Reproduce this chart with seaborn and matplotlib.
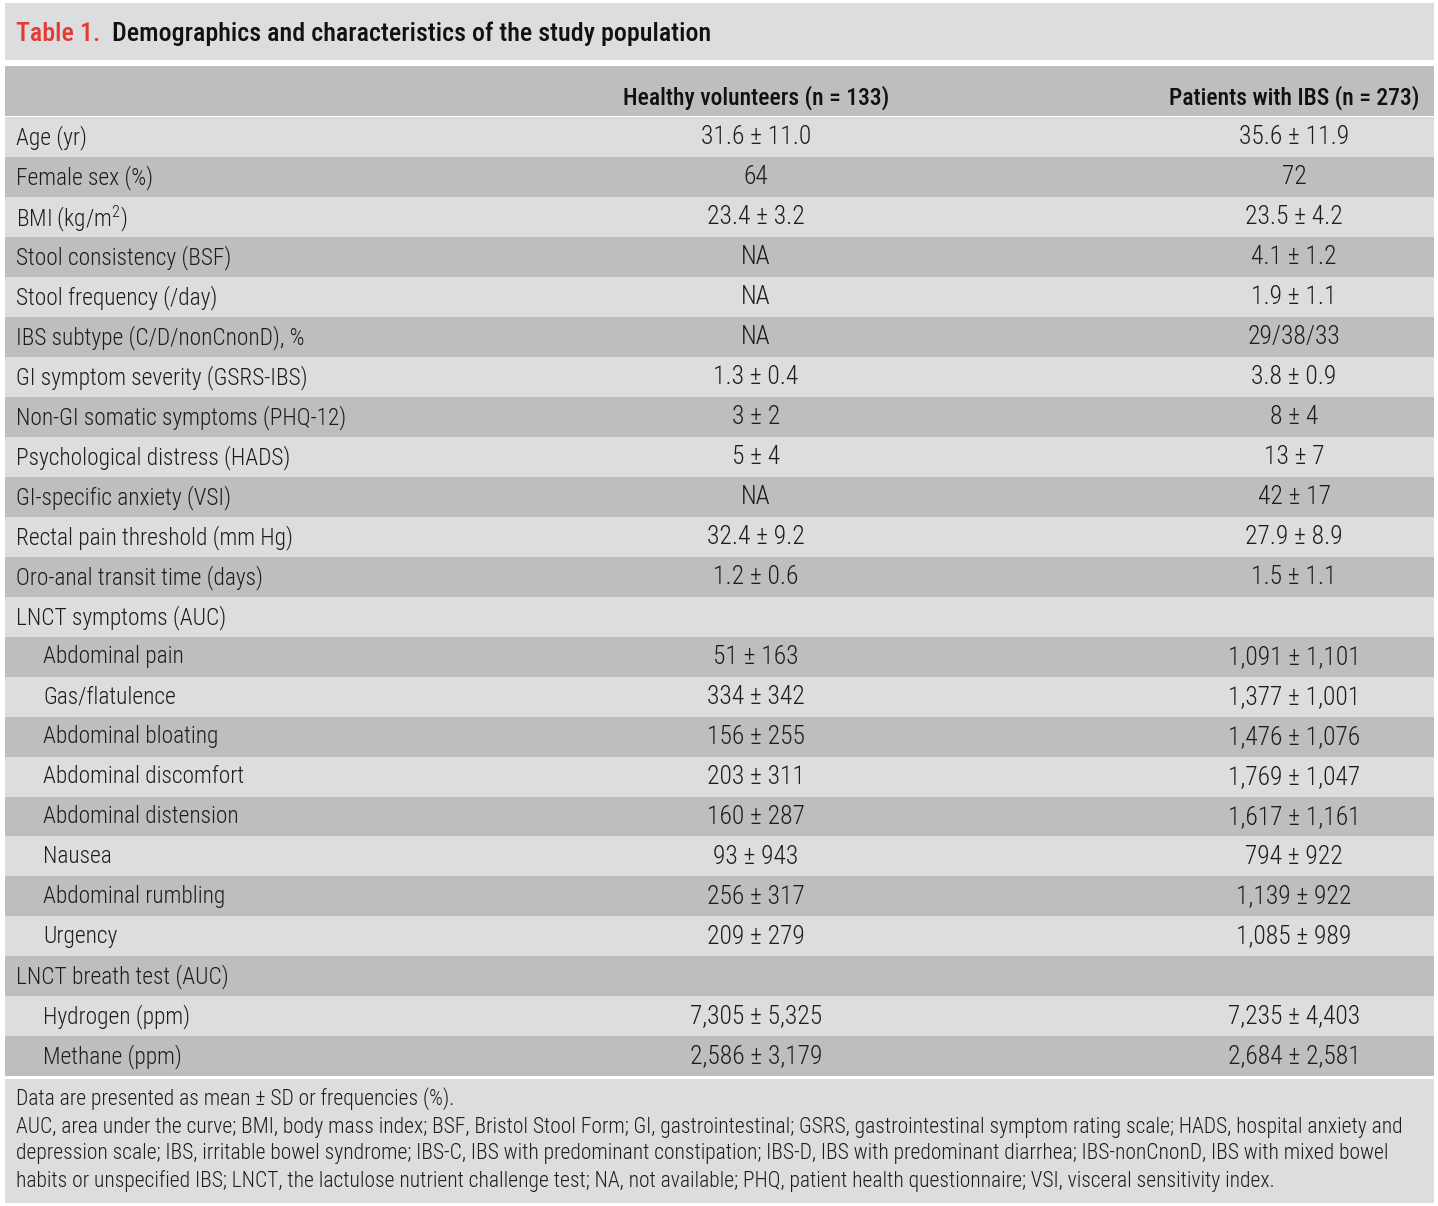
import matplotlib
matplotlib.use("Agg")
import matplotlib.pyplot as plt
import seaborn as sns

# table content
labels = ["Age (yr)", "Female sex (%)", "BMI (kg/m$^{2}$)", "Stool consistency (BSF)",
          "Stool frequency (/day)", "IBS subtype (C/D/nonCnonD), %",
          "GI symptom severity (GSRS-IBS)", "Non-GI somatic symptoms (PHQ-12)",
          "Psychological distress (HADS)", "GI-specific anxiety (VSI)",
          "Rectal pain threshold (mm Hg)", "Oro-anal transit time (days)",
          "LNCT symptoms (AUC)", "Abdominal pain", "Gas/flatulence",
          "Abdominal bloating", "Abdominal discomfort", "Abdominal distension",
          "Nausea", "Abdominal rumbling", "Urgency", "LNCT breath test (AUC)",
          "Hydrogen (ppm)", "Methane (ppm)"]
indented = [False] * 13 + [True] * 8 + [False] + [True] * 2
healthy = ["31.6 ± 11.0", "64", "23.4 ± 3.2", "NA", "NA", "NA", "1.3 ± 0.4",
           "3 ± 2", "5 ± 4", "NA", "32.4 ± 9.2", "1.2 ± 0.6", "",
           "51 ± 163", "334 ± 342", "156 ± 255", "203 ± 311", "160 ± 287",
           "93 ± 943", "256 ± 317", "209 ± 279", "",
           "7,305 ± 5,325", "2,586 ± 3,179"]
ibs = ["35.6 ± 11.9", "72", "23.5 ± 4.2", "4.1 ± 1.2", "1.9 ± 1.1", "29/38/33",
       "3.8 ± 0.9", "8 ± 4", "13 ± 7", "42 ± 17", "27.9 ± 8.9", "1.5 ± 1.1", "",
       "1,091 ± 1,101", "1,377 ± 1,001", "1,476 ± 1,076", "1,769 ± 1,047",
       "1,617 ± 1,161", "794 ± 922", "1,139 ± 922", "1,085 ± 989", "",
       "7,235 ± 4,403", "2,684 ± 2,581"]
col_headers = ["Healthy volunteers (n = 133)", "Patients with IBS (n = 273)"]
title_num = "Table 1."
title_text = "Demographics and characteristics of the study population"
footnotes = [
    "Data are presented as mean ± SD or frequencies (%).",
    "AUC, area under the curve; BMI, body mass index; BSF, Bristol Stool Form; GI, gastrointestinal; GSRS, gastrointestinal symptom rating scale; HADS, hospital anxiety and",
    "depression scale; IBS, irritable bowel syndrome; IBS-C, IBS with predominant constipation; IBS-D, IBS with predominant diarrhea; IBS-nonCnonD, IBS with mixed bowel",
    "habits or unspecified IBS; LNCT, the lactulose nutrient challenge test; NA, not available; PHQ, patient health questionnaire; VSI, visceral sensitivity index.",
]

sns.set_theme(style="white")
plt.rcParams['font.family'] = ['Roboto Condensed', 'DejaVu Sans']
plt.rcParams['mathtext.fontset'] = 'custom'
plt.rcParams['mathtext.rm'] = 'Roboto Condensed:light'
plt.rcParams['mathtext.default'] = 'rm'

light = "#dcdddf"
dark = "#bdbec0"
ink = "#1f1c1d"

fig = plt.figure(figsize=(14.38, 12.06), dpi=100)
ax = fig.add_axes([0, 0, 1, 1])
ax.set_xlim(0, 1438)
ax.set_ylim(1206, 0)
ax.axis("off")
renderer = fig.canvas.get_renderer()


def text_width(s, size, weight="normal"):
    t = ax.text(0, 0, s, fontsize=size, fontweight=weight)
    w = t.get_window_extent(renderer).width
    t.remove()
    return w


def fit_size(s, target, weight="normal"):
    return 20 * target / text_width(s, 20, weight)


body_fs = fit_size("Rectal pain threshold (mm Hg)", 277, "light")
val_fs = fit_size("7,305 ± 5,325", 132, "light")
head_fs = fit_size(col_headers[0], 266, "medium")
foot_fs = fit_size(footnotes[1], 1384, "light")
title_fs = fit_size(title_num + "  " + title_text, 694, "medium")

left, width = 5, 1429
row_h = 39.95
first_y = 137.5
row_y = [first_y + i * row_h for i in range(len(labels))]
row_cols = [light if i % 2 == 0 else dark for i in range(len(labels))]

# title band, header band, body stripes, footer band
ax.barh([31.5], [width], height=57, left=left, color=light, linewidth=0)
ax.barh([91], [width], height=50, left=left, color=dark, linewidth=0)
ax.barh(row_y, [width] * len(labels), height=row_h + 0.3, left=left,
        color=row_cols, linewidth=0)
ax.barh([1141], [width], height=124, left=left, color=light, linewidth=0)

ax.text(16, 34, title_num, color="#e53a33", fontsize=title_fs, fontweight="medium", va="center")
gap = text_width(title_num + "  ", title_fs, "medium")
ax.text(16 + gap, 34, title_text, color="#111111", fontsize=title_fs, fontweight="medium", va="center")

col_x = [756, 1294]
for x, h in zip(col_x, col_headers):
    ax.text(x, 98, h, ha="center", va="center", fontsize=head_fs, fontweight="medium", color="#111111")

for y, lab, ind, a, b in zip(row_y, labels, indented, healthy, ibs):
    ty = y - 2.5
    ax.text(43 if ind else 16, ty, lab, ha="left", va="center_baseline", fontsize=body_fs,
            fontweight="light", color=ink)
    ax.text(col_x[0], ty, a, ha="center", va="center_baseline", fontsize=val_fs,
            fontweight="light", color=ink)
    ax.text(col_x[1], ty, b, ha="center", va="center_baseline", fontsize=val_fs,
            fontweight="light", color=ink)

foot_y = [1099, 1127, 1154, 1181]
for y, line in zip(foot_y, footnotes):
    ax.text(16, y, line, ha="left", va="center", fontsize=foot_fs, fontweight="light", color=ink)

fig.savefig("out.png", dpi=100, facecolor="white")
